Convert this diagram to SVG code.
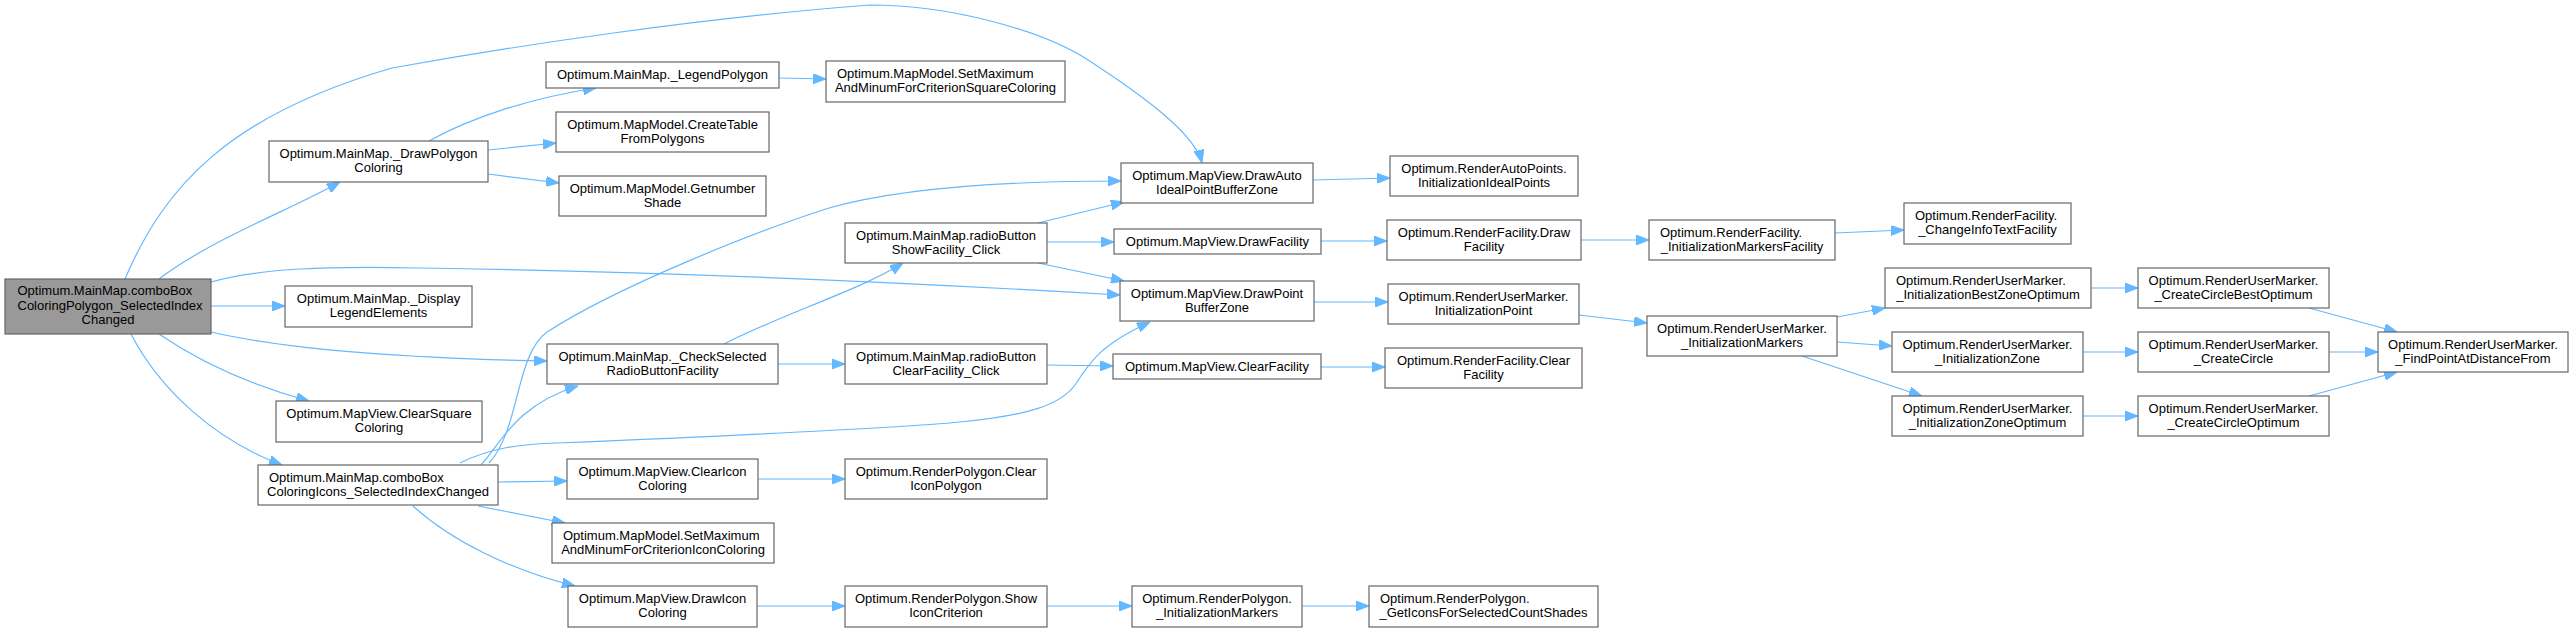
<svg xmlns="http://www.w3.org/2000/svg" width="2573" height="632" viewBox="0 0 2573 632">
<style>
.n rect{fill:#ffffff;stroke:#666666;stroke-width:1.2}
.main rect{fill:#999999;stroke:#666666;stroke-width:1.2}
text{font-family:"Liberation Sans",Arial,Helvetica,sans-serif;font-size:13px;fill:#000000}
.m{text-anchor:middle}
.s{text-anchor:start}
.e path{fill:none;stroke:#63b8ff;stroke-width:1.2;marker-end:url(#ah)}
</style>
<defs>
<marker id="ah" viewBox="0 0 13 10" refX="13" refY="5" markerWidth="13" markerHeight="10" markerUnits="userSpaceOnUse" orient="auto">
<path d="M0,0 L13,5 L0,10 z" fill="#63b8ff" stroke="#63b8ff" stroke-width="1"/>
</marker>
</defs>
<rect width="2573" height="632" fill="#ffffff"/>
<g id="connectors" class="e">
<path d="M125,279 C165,185 230,115 392,68 C520,45 700,18 870,5 C950,5 1040,30 1085,58 C1150,100 1195,135 1202,163"/>
<path d="M159,279 C210,240 290,210 340,182"/>
<path d="M211,282 C260,268 330,266 420,268 C700,272 950,285 1120,295"/>
<path d="M211,306 L285,306"/>
<path d="M211,332 C280,348 400,358 547,361"/>
<path d="M159,334 C200,362 250,385 309,401"/>
<path d="M131,334 C160,390 215,440 282,465"/>
<path d="M429,141 C470,118 530,98 596,88"/>
<path d="M488,150 L556,143"/>
<path d="M488,174 L559,183"/>
<path d="M779,78 L826,79"/>
<path d="M481,465 C500,445 515,405 578,386"/>
<path d="M489,463 C520,430 515,355 547,332 C620,285 760,230 829,208 C900,188 1000,181 1121,181"/>
<path d="M460,463 C490,448 520,444 557,443 C700,437 900,428 960,422 C1030,415 1060,405 1075,385 C1090,362 1100,345 1150,322"/>
<path d="M498,482 L567,481"/>
<path d="M478,506 L565,523"/>
<path d="M413,506 C450,540 510,570 575,586"/>
<path d="M724,344 C780,315 860,290 903,263"/>
<path d="M778,364 L845,364"/>
<path d="M1038,223 L1124,202"/>
<path d="M1047,242 L1114,242"/>
<path d="M1038,263 L1124,281"/>
<path d="M1313,180 L1390,178"/>
<path d="M1321,241 L1387,241"/>
<path d="M1581,240 L1649,240"/>
<path d="M1835,233 L1904,230"/>
<path d="M1314,302 L1388,302"/>
<path d="M1579,315 L1647,323"/>
<path d="M1047,365 L1113,366"/>
<path d="M1321,367 L1385,367"/>
<path d="M758,479 L845,479"/>
<path d="M757,606 L845,606"/>
<path d="M1047,606 L1132,606"/>
<path d="M1302,606 L1369,606"/>
<path d="M1837,317 L1885,308"/>
<path d="M1837,342 L1892,346"/>
<path d="M1802,356 L1922,396"/>
<path d="M2091,288 L2138,288"/>
<path d="M2083,352 L2138,352"/>
<path d="M2083,416 L2138,416"/>
<path d="M2309,308 L2397,332"/>
<path d="M2329,352 L2378,352"/>
<path d="M2309,396 L2397,372"/>
</g>
<g id="n0" class="main"><rect x="5" y="279" width="206" height="55"/><text class="s" x="17.5" y="295">Optimum.MainMap.comboBox</text><text class="s" x="17.5" y="309.5">ColoringPolygon_SelectedIndex</text><text class="m" x="108" y="324">Changed</text></g>
<g id="n1" class="n"><rect x="269" y="141" width="219" height="41"/><text class="m" x="378.5" y="157.5">Optimum.MainMap._DrawPolygon</text><text class="m" x="378.5" y="172">Coloring</text></g>
<g id="n2" class="n"><rect x="546" y="62" width="233" height="26"/><text class="m" x="662.5" y="79">Optimum.MainMap._LegendPolygon</text></g>
<g id="n3" class="n"><rect x="826" y="61" width="239" height="41"/><text class="s" x="837" y="77.5">Optimum.MapModel.SetMaximum</text><text class="m" x="945.5" y="92">AndMinumForCriterionSquareColoring</text></g>
<g id="n4" class="n"><rect x="556" y="112" width="213" height="40"/><text class="m" x="662.5" y="128.5">Optimum.MapModel.CreateTable</text><text class="m" x="662.5" y="143">FromPolygons</text></g>
<g id="n5" class="n"><rect x="559" y="176" width="207" height="40"/><text class="m" x="662.5" y="192.5">Optimum.MapModel.Getnumber</text><text class="m" x="662.5" y="207">Shade</text></g>
<g id="n6" class="n"><rect x="1121" y="163" width="192" height="40"/><text class="m" x="1217" y="179.5">Optimum.MapView.DrawAuto</text><text class="m" x="1217" y="194">IdealPointBufferZone</text></g>
<g id="n7" class="n"><rect x="1390" y="156" width="188" height="40"/><text class="m" x="1484" y="172.5">Optimum.RenderAutoPoints.</text><text class="m" x="1484" y="187">InitializationIdealPoints</text></g>
<g id="n8" class="n"><rect x="285" y="286" width="187" height="41"/><text class="m" x="378.5" y="302.5">Optimum.MainMap._Display</text><text class="m" x="378.5" y="317">LegendElements</text></g>
<g id="n9" class="n"><rect x="845" y="223" width="202" height="40"/><text class="m" x="946" y="239.5">Optimum.MainMap.radioButton</text><text class="m" x="946" y="254">ShowFacility_Click</text></g>
<g id="n10" class="n"><rect x="1114" y="229" width="207" height="25"/><text class="m" x="1217.5" y="245.5">Optimum.MapView.DrawFacility</text></g>
<g id="n11" class="n"><rect x="1387" y="220" width="194" height="40"/><text class="m" x="1484" y="236.5">Optimum.RenderFacility.Draw</text><text class="m" x="1484" y="251">Facility</text></g>
<g id="n12" class="n"><rect x="1649" y="220" width="186" height="40"/><text class="s" x="1660" y="236.5">Optimum.RenderFacility.</text><text class="m" x="1742" y="251">_InitializationMarkersFacility</text></g>
<g id="n13" class="n"><rect x="1904" y="203" width="167" height="41"/><text class="s" x="1915" y="219.5">Optimum.RenderFacility.</text><text class="m" x="1987.5" y="234">_ChangeInfoTextFacility</text></g>
<g id="n14" class="n"><rect x="1120" y="281" width="194" height="40"/><text class="m" x="1217" y="297.5">Optimum.MapView.DrawPoint</text><text class="m" x="1217" y="312">BufferZone</text></g>
<g id="n15" class="n"><rect x="1388" y="284" width="191" height="40"/><text class="m" x="1483.5" y="300.5">Optimum.RenderUserMarker.</text><text class="m" x="1483.5" y="315">InitializationPoint</text></g>
<g id="n16" class="n"><rect x="1647" y="316" width="190" height="40"/><text class="m" x="1742" y="332.5">Optimum.RenderUserMarker.</text><text class="m" x="1742" y="347">_InitializationMarkers</text></g>
<g id="n17" class="n"><rect x="1885" y="268" width="206" height="40"/><text class="s" x="1896" y="284.5">Optimum.RenderUserMarker.</text><text class="m" x="1988" y="299">_InitializationBestZoneOptimum</text></g>
<g id="n18" class="n"><rect x="2138" y="268" width="191" height="40"/><text class="m" x="2233.5" y="284.5">Optimum.RenderUserMarker.</text><text class="m" x="2233.5" y="299">_CreateCircleBestOptimum</text></g>
<g id="n19" class="n"><rect x="1892" y="332" width="191" height="40"/><text class="m" x="1987.5" y="348.5">Optimum.RenderUserMarker.</text><text class="m" x="1987.5" y="363">_InitializationZone</text></g>
<g id="n20" class="n"><rect x="2138" y="332" width="191" height="40"/><text class="m" x="2233.5" y="348.5">Optimum.RenderUserMarker.</text><text class="m" x="2233.5" y="363">_CreateCircle</text></g>
<g id="n21" class="n"><rect x="2378" y="332" width="190" height="40"/><text class="m" x="2473" y="348.5">Optimum.RenderUserMarker.</text><text class="m" x="2473" y="363">_FindPointAtDistanceFrom</text></g>
<g id="n22" class="n"><rect x="1892" y="396" width="191" height="40"/><text class="m" x="1987.5" y="412.5">Optimum.RenderUserMarker.</text><text class="m" x="1987.5" y="427">_InitializationZoneOptimum</text></g>
<g id="n23" class="n"><rect x="2138" y="396" width="191" height="40"/><text class="m" x="2233.5" y="412.5">Optimum.RenderUserMarker.</text><text class="m" x="2233.5" y="427">_CreateCircleOptimum</text></g>
<g id="n24" class="n"><rect x="547" y="344" width="231" height="40"/><text class="m" x="662.5" y="360.5">Optimum.MainMap._CheckSelected</text><text class="m" x="662.5" y="375">RadioButtonFacility</text></g>
<g id="n25" class="n"><rect x="845" y="344" width="202" height="40"/><text class="m" x="946" y="360.5">Optimum.MainMap.radioButton</text><text class="m" x="946" y="375">ClearFacility_Click</text></g>
<g id="n26" class="n"><rect x="1113" y="354" width="208" height="25"/><text class="m" x="1217" y="370.5">Optimum.MapView.ClearFacility</text></g>
<g id="n27" class="n"><rect x="1385" y="348" width="197" height="40"/><text class="m" x="1483.5" y="364.5">Optimum.RenderFacility.Clear</text><text class="m" x="1483.5" y="379">Facility</text></g>
<g id="n28" class="n"><rect x="276" y="401" width="206" height="41"/><text class="m" x="379" y="417.5">Optimum.MapView.ClearSquare</text><text class="m" x="379" y="432">Coloring</text></g>
<g id="n29" class="n"><rect x="258" y="465" width="240" height="40"/><text class="s" x="269" y="481.5">Optimum.MainMap.comboBox</text><text class="m" x="378" y="496">ColoringIcons_SelectedIndexChanged</text></g>
<g id="n30" class="n"><rect x="567" y="459" width="191" height="40"/><text class="m" x="662.5" y="475.5">Optimum.MapView.ClearIcon</text><text class="m" x="662.5" y="490">Coloring</text></g>
<g id="n31" class="n"><rect x="845" y="459" width="202" height="40"/><text class="m" x="946" y="475.5">Optimum.RenderPolygon.Clear</text><text class="m" x="946" y="490">IconPolygon</text></g>
<g id="n32" class="n"><rect x="552" y="523" width="222" height="40"/><text class="s" x="563" y="539.5">Optimum.MapModel.SetMaximum</text><text class="m" x="663" y="554">AndMinumForCriterionIconColoring</text></g>
<g id="n33" class="n"><rect x="568" y="586" width="189" height="41"/><text class="m" x="662.5" y="602.5">Optimum.MapView.DrawIcon</text><text class="m" x="662.5" y="617">Coloring</text></g>
<g id="n34" class="n"><rect x="845" y="586" width="202" height="41"/><text class="m" x="946" y="602.5">Optimum.RenderPolygon.Show</text><text class="m" x="946" y="617">IconCriterion</text></g>
<g id="n35" class="n"><rect x="1132" y="586" width="170" height="41"/><text class="m" x="1217" y="602.5">Optimum.RenderPolygon.</text><text class="m" x="1217" y="617">_InitializationMarkers</text></g>
<g id="n36" class="n"><rect x="1369" y="586" width="229" height="41"/><text class="s" x="1380" y="602.5">Optimum.RenderPolygon.</text><text class="m" x="1483.5" y="617">_GetIconsForSelectedCountShades</text></g>
</svg>
